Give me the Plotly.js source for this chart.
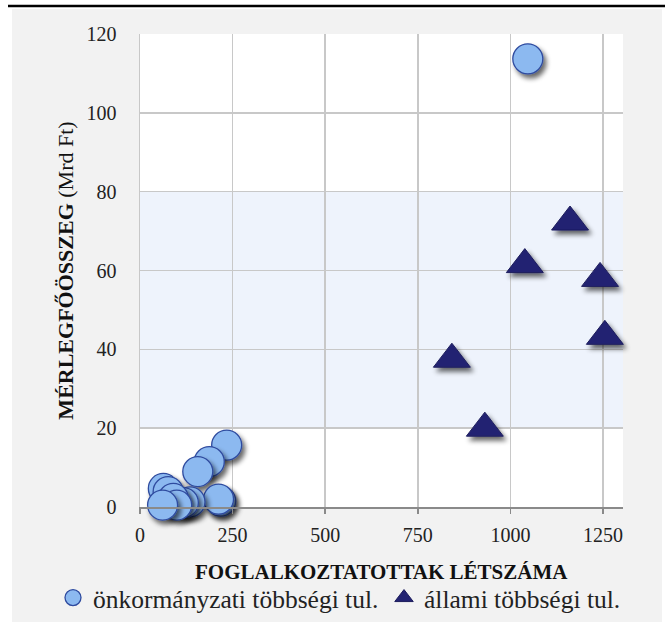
<!DOCTYPE html>
<html>
<head>
<meta charset="utf-8">
<script src="https://cdn.plot.ly/plotly-3.0.1.min.js"></script>
<style>
html,body{margin:0;padding:0;background:#fff;}
#chart{width:668px;height:622px;}
</style>
</head>
<body>
<div id="chart"></div>
<script>
// ---- data ----
var seriesNames = ["önkormányzati többségi tul.", "állami többségi tul."];
var onkormanyzatiX = [1047, 234, 187, 156, 218, 212, 63, 76, 135, 117, 90, 99, 61];
var onkormanyzatiY = [113.7, 15.7, 11.5, 9.0, 1.5, 2.0, 4.7, 3.9, 1.3, 1.1, 2.2, 0.5, 0.5];
var allamiX = [842, 931, 1039, 1161, 1242, 1255];
var allamiY = [37.5, 20.0, 61.5, 72.3, 58.0, 43.3];
var xTickVals = [0, 250, 500, 750, 1000, 1250];
var yTickVals = [0, 20, 40, 60, 80, 100, 120];
var bandRange = [20, 80];
var xTitle = "<b>FOGLALKOZTATOTTAK LÉTSZÁMA</b>";
var yTitle = "<b>MÉRLEGFŐÖSSZEG</b> (Mrd Ft)";

// ---- layout geometry (page pixels) ----
var W = 668, H = 622, L = 140, R = 45, T = 34, B = 115;
var pw = W - L - R, ph = H - T - B;
function px(x){ return (x - L) / pw; }
function py(y){ return (H - B - y) / ph; }

var serif = "Liberation Serif";
var legendFont = {family: serif, size: 25.5, color: "#222222"};

var traces = [
  {
    type: "scatter", mode: "markers", name: seriesNames[0], legend: "legend",
    x: onkormanyzatiX, y: onkormanyzatiY, cliponaxis: false,
    marker: {symbol: "circle", size: 30, color: "#8cb9f0", line: {color: "#2f4b9f", width: 1.3}}
  },
  {
    type: "scatter", mode: "markers", name: seriesNames[1], legend: "legend2",
    x: allamiX, y: allamiY, cliponaxis: false,
    marker: {symbol: "triangle-up", size: 32, color: "#232372", line: {color: "#1c1c5c", width: 1}}
  }
];

var layout = {
  width: W, height: H,
  margin: {l: L, r: R, t: T, b: B, pad: 0, autoexpand: false},
  paper_bgcolor: "#f2f2f2",
  plot_bgcolor: "#ffffff",
  font: {family: serif, color: "#222222"},
  showlegend: true,
  legend: {
    orientation: "h", xref: "container", yref: "container",
    x: 53 / W, xanchor: "left", y: (H - 598) / H, yanchor: "middle",
    font: legendFont, itemsizing: "trace", bgcolor: "rgba(0,0,0,0)"
  },
  legend2: {
    orientation: "h", xref: "container", yref: "container",
    x: 384 / W, xanchor: "left", y: (H - 598) / H, yanchor: "middle",
    font: legendFont, itemsizing: "trace", bgcolor: "rgba(0,0,0,0)"
  },
  xaxis: {
    range: [0, 1304], tickvals: xTickVals, ticktext: xTickVals.map(String),
    showgrid: true, gridcolor: "#c8c8c8", gridwidth: 1.5,
    showline: true, linecolor: "#8a8a8a", linewidth: 2,
    ticks: "outside", ticklen: 5, tickcolor: "#8a8a8a", tickwidth: 1.5,
    zeroline: false, ticklabelstandoff: 4, automargin: false,
    tickfont: {family: serif, size: 20, color: "#222222"}
  },
  yaxis: {
    range: [0, 120], tickvals: yTickVals, ticktext: yTickVals.map(String),
    showgrid: true, gridcolor: "#c8c8c8", gridwidth: 1.5,
    showline: true, linecolor: "#c8c8c8", linewidth: 1.5,
    ticks: "", zeroline: false, ticklabelstandoff: 18, automargin: false,
    tickfont: {family: serif, size: 20, color: "#222222"},
    title: {text: yTitle, font: {family: serif, size: 22, color: "#111111"}, standoff: 7}
  },
  annotations: [
    {text: xTitle, xref: "paper", yref: "paper", x: 0.5, y: py(572),
     xanchor: "center", yanchor: "middle", showarrow: false,
     font: {family: serif, size: 21, color: "#111111"}}
  ],
  shapes: [
    {type: "rect", xref: "x domain", yref: "y", x0: 0, x1: 1, y0: bandRange[0], y1: bandRange[1],
     fillcolor: "#eef3fc", line: {width: 0}, layer: "below"},
    {type: "rect", xref: "paper", yref: "paper", x0: px(0), x1: px(12), y0: py(H), y1: py(0),
     fillcolor: "#ffffff", line: {width: 0}, layer: "below"},
    {type: "rect", xref: "paper", yref: "paper", x0: px(662), x1: px(W), y0: py(H), y1: py(0),
     fillcolor: "#ffffff", line: {width: 0}, layer: "below"},
    {type: "rect", xref: "paper", yref: "paper", x0: px(0), x1: px(W), y0: py(9), y1: py(0),
     fillcolor: "#ffffff", line: {width: 0}, layer: "below"},
    {type: "line", xref: "paper", yref: "paper", x0: px(8), x1: px(665), y0: py(6), y1: py(6),
     line: {color: "#000000", width: 2.5}, layer: "above"}
  ]
};

Plotly.newPlot("chart", traces, layout, {staticPlot: true, displayModeBar: false}).then(function(gd){
  var svg = gd.querySelector(".main-svg");
  var defs = svg.querySelector("defs");
  var ns = "http://www.w3.org/2000/svg";
  var f = document.createElementNS(ns, "filter");
  f.setAttribute("id", "markerShadow");
  f.setAttribute("x", "-60%"); f.setAttribute("y", "-60%");
  f.setAttribute("width", "220%"); f.setAttribute("height", "220%");
  f.innerHTML = '<feGaussianBlur in="SourceAlpha" stdDeviation="2.5"/>' +
    '<feOffset dx="3" dy="4" result="o"/>' +
    '<feComponentTransfer><feFuncA type="linear" slope="0.6"/></feComponentTransfer>' +
    '<feMerge><feMergeNode/><feMergeNode in="SourceGraphic"/></feMerge>';
  defs.appendChild(f);
  gd.querySelectorAll(".scatterlayer .points path").forEach(function(p){
    p.setAttribute("filter", "url(#markerShadow)");
  });
});
</script>
</body>
</html>
